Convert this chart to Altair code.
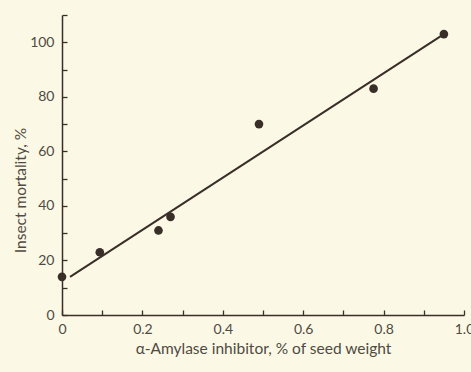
import altair as alt
import pandas as pd

# Insect mortality against alpha-amylase inhibitor content of the seed
inhibitor = [0.0, 0.094, 0.24, 0.27, 0.49, 0.775, 0.95]
mortality = [14, 23, 31, 36, 70, 83, 103]

# fitted straight line, end points
fit_x = [0.02, 0.95]
fit_y = [14, 103]

x_ticks = [round(i * 0.1, 1) for i in range(0, 11)]
x_labels = [0.0, 0.2, 0.4, 0.6, 0.8, 1.0]
y_ticks = list(range(0, 111, 10))
y_labels = list(range(0, 101, 20))

pts = pd.DataFrame({"x": inhibitor, "y": mortality})
fit = pd.DataFrame({"x": fit_x, "y": fit_y})

INK = "#3a2e28"
TXT = "#4f4a44"
FONT = "Lato"

x_scale = alt.Scale(domain=[0, 1], nice=False, zero=False)
y_scale = alt.Scale(domain=[0, 110], nice=False, zero=False)

# axis with labels and titles (no ticks)
points = alt.Chart(pts).mark_circle(size=75, color=INK, opacity=1).encode(
    x=alt.X("x:Q", scale=x_scale,
            axis=alt.Axis(values=x_labels, ticks=False, grid=False,
                          title="α-Amylase inhibitor, % of seed weight",
                          labelExpr="datum.value == 0 ? '0' : format(datum.value, '.1f')",
                          labelFlush=False, labelOverlap=False,
                          labelPadding=7, titlePadding=5, labelFontSize=14,
                          titleFontSize=15.5, titleFontWeight="normal",
                          labelColor=TXT, titleColor=TXT, domainColor=INK,
                          domainWidth=1.5, labelFont=FONT, titleFont=FONT)),
    y=alt.Y("y:Q", scale=y_scale,
            axis=alt.Axis(values=y_labels, ticks=False, grid=False,
                          title="Insect mortality, %",
                          labelPadding=8, titlePadding=1, labelFontSize=14,
                          titleFontSize=15.5, titleFontWeight="normal",
                          titleY=175,
                          labelColor=TXT, titleColor=TXT, domainColor=INK,
                          domainWidth=1.5, labelFont=FONT, titleFont=FONT)),
)

# inward-pointing tick marks on secondary axes placed over the main ones
line = alt.Chart(fit).mark_line(color=INK, strokeWidth=2).encode(
    x=alt.X("x:Q", scale=x_scale,
            axis=alt.Axis(orient="top", offset=-300, values=x_ticks,
                          labels=False, domain=False, grid=False, title=None,
                          tickSize=5, tickColor=INK, tickWidth=1.3)),
    y=alt.Y("y:Q", scale=y_scale,
            axis=alt.Axis(orient="right", offset=-402, values=y_ticks,
                          labels=False, domain=False, grid=False, title=None,
                          tickSize=5, tickColor=INK, tickWidth=1.3)),
)

chart = (
    alt.layer(points, line)
    .resolve_axis(x="independent", y="independent")
    .properties(
        width=402,
        height=300,
        background="#fbf9e5",
        padding={"left": 62, "top": 15, "right": 7, "bottom": 57},
        autosize=alt.AutoSizeParams(type="none"),
    )
    .configure_view(stroke=None)
)

chart.save("out.html", embed_options={"renderer": "svg", "actions": False})
